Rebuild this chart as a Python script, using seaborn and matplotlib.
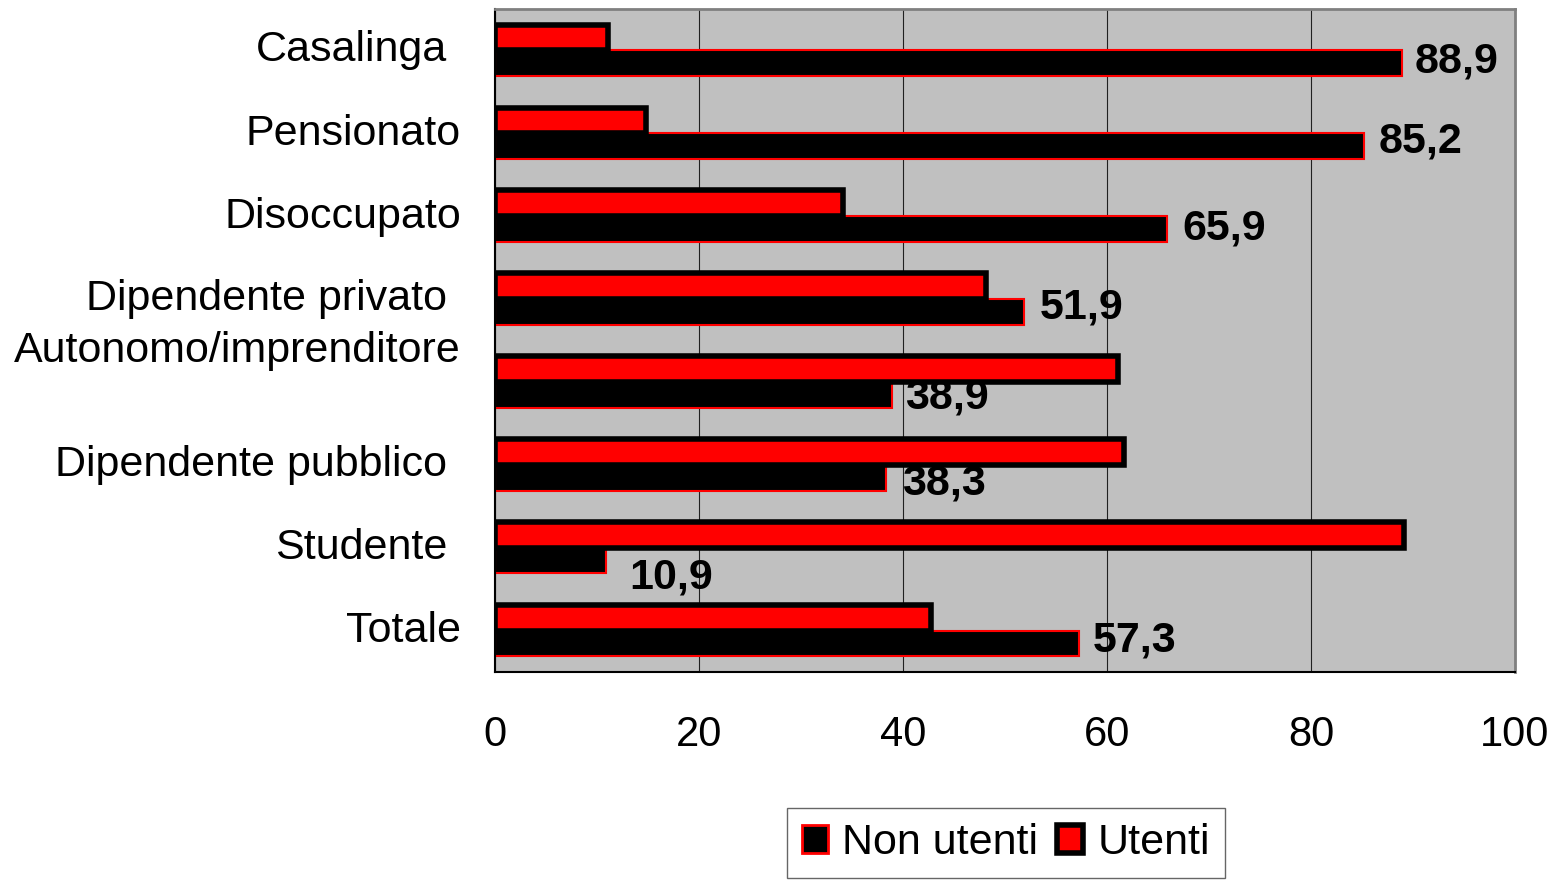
import pandas as pd
import matplotlib.pyplot as plt
import seaborn as sns
from matplotlib.patches import Patch

# dati (percentuali)
categorie = ['Casalinga', 'Pensionato', 'Disoccupato', 'Dipendente privato',
             'Autonomo/imprenditore', 'Dipendente pubblico', 'Studente', 'Totale']
non_utenti = [88.9, 85.2, 65.9, 51.9, 38.9, 38.3, 10.9, 57.3]
utenti = [11.1, 14.8, 34.1, 48.1, 61.1, 61.7, 89.1, 42.7]
etichette_non_utenti = ['88,9', '85,2', '65,9', '51,9', '38,9', '38,3', '10,9', '57,3']
tick_x = [0, 20, 40, 60, 80, 100]

# spostamenti (pixel) delle etichette, come nell'originale
offset_categorie = [(-48, 0), (-34, -1), (-34, -1), (-48, 0), (-34, 31), (-48, 0), (-48, 0), (-34, 0)]
offset_valori = [(13, 2), (15, 5), (15, 1), (15, 4), (13, -3), (16, -6), (23, -17), (13, 3)]

df = pd.DataFrame({
    'categoria': categorie * 2,
    'percentuale': utenti + non_utenti,
    'serie': ['Utenti'] * len(categorie) + ['Non utenti'] * len(categorie),
})

sns.set_style('white')
plt.rcParams['font.family'] = ['Liberation Sans', 'DejaVu Sans']

fig = plt.figure(figsize=(15.64, 8.82), dpi=100)
ax = fig.add_axes([495 / 1564, 1 - 672 / 882, 1020 / 1564, 663 / 882])

sns.barplot(data=df, y='categoria', x='percentuale', hue='serie', order=categorie,
            hue_order=['Utenti', 'Non utenti'], palette={'Utenti': '#FF0000', 'Non utenti': '#000000'},
            orient='h', width=0.62, gap=0, saturation=1, legend=False, ax=ax)

# bordi delle barre
for p in ax.containers[0]:
    p.set_edgecolor('black')
    p.set_linewidth(4)
    p.set_zorder(3)
for p in ax.containers[1]:
    p.set_edgecolor('#FF0000')
    p.set_linewidth(1.5)
    p.set_zorder(2)

ax.set_facecolor('#C0C0C0')
ax.set_xlim(0, 100)
ax.set_xticks(tick_x)
ax.set_xticklabels([str(t) for t in tick_x], fontsize=30)
ax.set_yticks([i - 0.5 for i in range(len(categorie) + 1)])
ax.set_yticklabels([])
ax.tick_params(axis='x', length=9, width=1, pad=22, color='black', labelcolor='black')
ax.tick_params(axis='y', length=10, width=1, color='black')
ax.set_xlabel('')
ax.set_ylabel('')
ax.set_axisbelow(True)
ax.grid(axis='x', color='#202020', linewidth=0.8)
ax.grid(axis='y', visible=False)

for lato in ['top', 'right']:
    ax.spines[lato].set_color('#808080')
    ax.spines[lato].set_linewidth(2)
for lato in ['left', 'bottom']:
    ax.spines[lato].set_color('black')
    ax.spines[lato].set_linewidth(1.5)

# etichette delle categorie
for i, cat in enumerate(categorie):
    dx, dy = offset_categorie[i]
    ax.annotate(cat, xy=(0, i), xycoords=('axes fraction', 'data'), xytext=(dx, dy),
                textcoords='offset pixels', ha='right', va='center', fontsize=31, color='black')

# valori sulle barre nere (Non utenti)
for i, p in enumerate(ax.containers[1]):
    dx, dy = offset_valori[i]
    ax.annotate(etichette_non_utenti[i], xy=(p.get_width(), p.get_y() + p.get_height() / 2),
                xytext=(dx, dy), textcoords='offset pixels', ha='left', va='center',
                fontsize=31, fontweight='bold', color='black', zorder=5)

maniglie = [Patch(facecolor='#000000', edgecolor='#FF0000', linewidth=2, label='Non utenti'),
            Patch(facecolor='#FF0000', edgecolor='#000000', linewidth=4, label='Utenti')]
leg = fig.legend(handles=maniglie, loc='upper center', bbox_to_anchor=(1006 / 1564, 1 - 808 / 882),
                 ncol=2, fontsize=31, frameon=True, fancybox=False, edgecolor='#404040',
                 handlelength=0.6, handleheight=0.6, handletextpad=0.33, columnspacing=0.45,
                 borderpad=0.35, borderaxespad=0)
leg.get_frame().set_linewidth(1)
for t in leg.get_texts():
    t.set_color('black')

fig.savefig('out.png', dpi=100)
